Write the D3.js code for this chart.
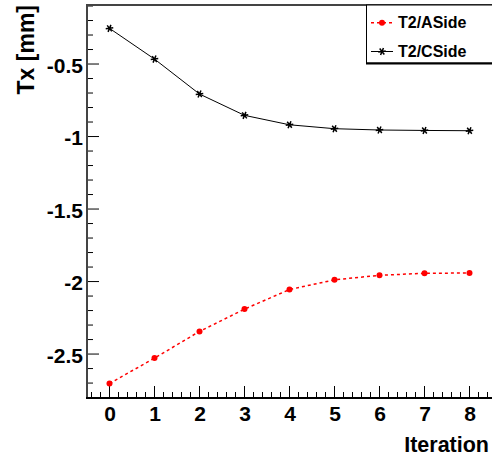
<!DOCTYPE html>
<html>
<head>
<meta charset="utf-8">
<script src="https://cdn.jsdelivr.net/npm/d3@7"></script>
<style>
  body { margin: 0; background: #fff; }
  text { font-family: "Liberation Sans", Arial, sans-serif; font-weight: bold; }
</style>
</head>
<body>
<div id="chart"></div>
<script>
const iterations = [0, 1, 2, 3, 4, 5, 6, 7, 8];
const aSide = [-2.703, -2.528, -2.344, -2.19, -2.055, -1.988, -1.957, -1.943, -1.941];
const cSide = [-0.254, -0.466, -0.707, -0.854, -0.919, -0.946, -0.955, -0.958, -0.96];
const yTicks = [-2.5, -2, -1.5, -1, -0.5];
const seriesNames = ['T2/ASide', 'T2/CSide'];

const W = 492, H = 461;
const margin = { top: 5, right: 0, bottom: 63, left: 87 };

const svg = d3.select('#chart')
    .append('svg')
    .attr('width', W)
    .attr('height', H);

const x = d3.scaleLinear()
    .domain([-0.5, 8.5])
    .range([margin.left, W - margin.right]);

const y = d3.scaleLinear()
    .domain([-2.803, -0.093])
    .range([H - margin.bottom, margin.top]);

const bottom = H - margin.bottom;

// minor ticks (inward)
const xMinor = d3.range(-0.4, 8.5, 0.2).map(v => +v.toFixed(1));
svg.append('g')
    .selectAll('line')
    .data(xMinor)
    .enter()
    .append('line')
    .attr('x1', d => x(d)).attr('x2', d => x(d))
    .attr('y1', bottom).attr('y2', d => Number.isInteger(d) ? bottom - 12 : bottom - 6)
    .attr('stroke', '#000');

const yMinor = d3.range(-2.8, -0.09, 0.1).map(v => +v.toFixed(1));
svg.append('g')
    .selectAll('line')
    .data(yMinor)
    .enter()
    .append('line')
    .attr('y1', d => y(d)).attr('y2', d => y(d))
    .attr('x1', margin.left)
    .attr('x2', d => (Math.abs(d * 2 - Math.round(d * 2)) < 1e-6) ? margin.left + 12 : margin.left + 6)
    .attr('stroke', '#000');

// axes (labels only)
const xAxis = svg.append('g')
    .attr('transform', 'translate(0,' + bottom + ')')
    .call(d3.axisBottom(x).tickValues(iterations).tickSize(0).tickPadding(8).tickFormat(d3.format('d')));
xAxis.select('.domain').remove();
xAxis.selectAll('.tick text')
    .attr('font-size', 21)
    .attr('font-family', null)
    .attr('fill', '#000');

const yAxis = svg.append('g')
    .attr('transform', 'translate(' + margin.left + ',0)')
    .call(d3.axisLeft(y).tickValues(yTicks).tickSize(0).tickPadding(4));
yAxis.select('.domain').remove();
yAxis.selectAll('.tick text')
    .attr('font-size', 21)
    .attr('font-family', null)
    .attr('dy', '0.4em')
    .attr('fill', '#000')
    .text(d => String(d));

// frame
svg.append('path')
    .attr('d', 'M' + margin.left + ',' + bottom + 'V' + margin.top + 'H' + W)
    .attr('fill', 'none')
    .attr('stroke', '#444')
    .attr('stroke-width', 2);
svg.append('line')
    .attr('x1', margin.left - 1).attr('x2', W)
    .attr('y1', bottom).attr('y2', bottom)
    .attr('stroke', '#000')
    .attr('stroke-width', 2);

// axis titles
svg.append('text')
    .attr('x', 489)
    .attr('y', 452)
    .attr('text-anchor', 'end')
    .attr('font-size', 21.5)
    .text('Iteration');

svg.append('text')
    .attr('transform', 'translate(34,5) rotate(-90)')
    .attr('text-anchor', 'end')
    .attr('font-size', 23)
    .text('Tx [mm]');

// series
const line = d3.line()
    .x((d, i) => x(iterations[i]))
    .y(d => y(d));

svg.append('path')
    .datum(cSide)
    .attr('d', line)
    .attr('fill', 'none')
    .attr('stroke', '#000')
    .attr('stroke-width', 1);

svg.append('path')
    .datum(aSide)
    .attr('d', line)
    .attr('fill', 'none')
    .attr('stroke', '#f00')
    .attr('stroke-width', 1.5)
    .attr('stroke-dasharray', '3,3');

const star = d3.symbol().type(d3.symbolAsterisk).size(40);
svg.append('g')
    .selectAll('path')
    .data(cSide)
    .enter()
    .append('path')
    .attr('d', star)
    .attr('transform', (d, i) => 'translate(' + x(iterations[i]) + ',' + y(d) + ') rotate(22.5)')
    .attr('fill', 'none')
    .attr('stroke', '#000')
    .attr('stroke-width', 1.5);

svg.append('g')
    .selectAll('circle')
    .data(aSide)
    .enter()
    .append('circle')
    .attr('cx', (d, i) => x(iterations[i]))
    .attr('cy', d => y(d))
    .attr('r', 3)
    .attr('fill', '#f00');

// legend
const legend = svg.append('g');
legend.append('rect')
    .attr('x', 366.5).attr('y', 5)
    .attr('width', 140).attr('height', 58)
    .attr('fill', '#fff')
    .attr('stroke', '#000')
    .attr('stroke-width', 1);
legend.append('line')
    .attr('x1', 366).attr('x2', W)
    .attr('y1', 63.5).attr('y2', 63.5)
    .attr('stroke', '#000')
    .attr('stroke-width', 2);

const legRows = [22.7, 51.5];
legRows.forEach((ly, i) => {
    const g = legend.append('g');
    g.append('line')
        .attr('x1', 371).attr('x2', 393)
        .attr('y1', ly).attr('y2', ly)
        .attr('stroke', i === 0 ? '#f00' : '#000')
        .attr('stroke-width', i === 0 ? 1.5 : 1)
        .attr('stroke-dasharray', i === 0 ? '3,3' : null);
    if (i === 0) {
        g.append('circle').attr('cx', 382).attr('cy', ly).attr('r', 3).attr('fill', '#f00');
    } else {
        g.append('path').attr('d', star)
            .attr('transform', 'translate(382,' + ly + ') rotate(22.5)')
            .attr('fill', 'none').attr('stroke', '#000').attr('stroke-width', 1.5);
    }
    g.append('text')
        .attr('x', 398)
        .attr('y', ly + 5.5)
        .attr('font-size', 16)
        .text(seriesNames[i]);
});
</script>
</body>
</html>
